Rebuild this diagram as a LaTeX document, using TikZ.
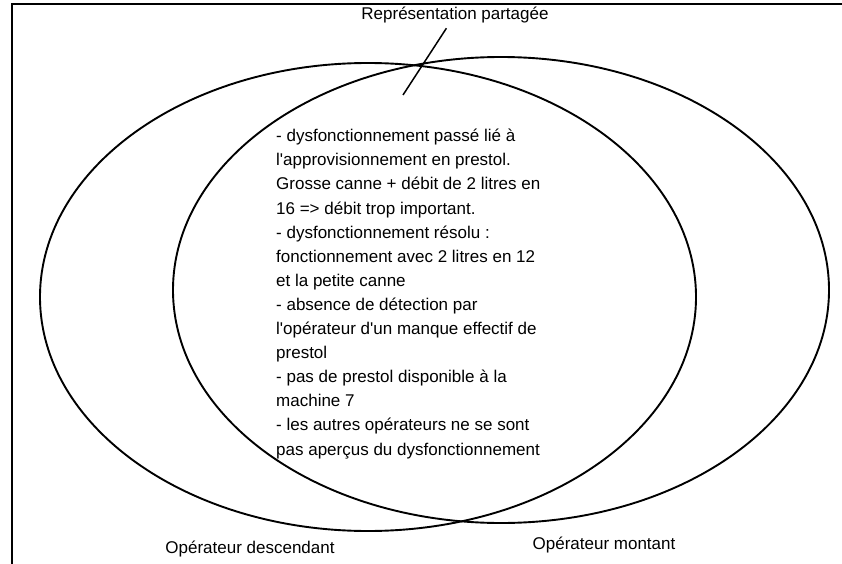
\documentclass[tikz,border=0pt]{standalone}
\usepackage{fontspec}
\setmainfont{Liberation Sans}
\usepackage{tikz}

\tikzset{
  trait/.style={line width=1.9pt},
  legende/.style={font=\fontsize{17}{20}\selectfont, inner sep=0pt},
  contenu/.style={font=\fontsize{17}{24.1}\selectfont, align=left, inner sep=0pt, anchor=base west},
}

\begin{document}
\begin{tikzpicture}[x=1pt,y=-1pt]
\useasboundingbox (0,0) rectangle (842,564);
% cadre
\draw[line width=1.5pt] (12,564) -- (12,4) -- (842,4);
% les deux operateurs
\draw[trait] (368,297) ellipse [x radius=328, y radius=234];
\draw[trait] (501,290) ellipse [x radius=328, y radius=233];
% representation partagee
\node (titre) at (455,15) [legende, inner sep=5pt] {Représentation partagée};
\coordinate (pointe) at (403,95);
\draw[line width=1.5pt] (pointe) -- (titre);
\node (partage) at (276,455) [contenu] {- dysfonctionnement passé lié à\\
l\textquotesingle approvisionnement en prestol.\\
Grosse canne + débit de 2 litres en\\
16 => débit trop important.\\
- dysfonctionnement résolu :\\
fonctionnement avec 2 litres en 12\\
et la petite canne\\
- absence de détection par\\
l\textquotesingle opérateur d\textquotesingle un manque effectif de\\
prestol\\
- pas de prestol disponible à la\\
machine 7\\
- les autres opérateurs ne se sont\\
pas aperçus du dysfonctionnement};
\node (descendant) at (250,549) [legende] {Opérateur descendant};
\node (montant) at (604,545) [legende] {Opérateur montant};
\end{tikzpicture}
\end{document}
